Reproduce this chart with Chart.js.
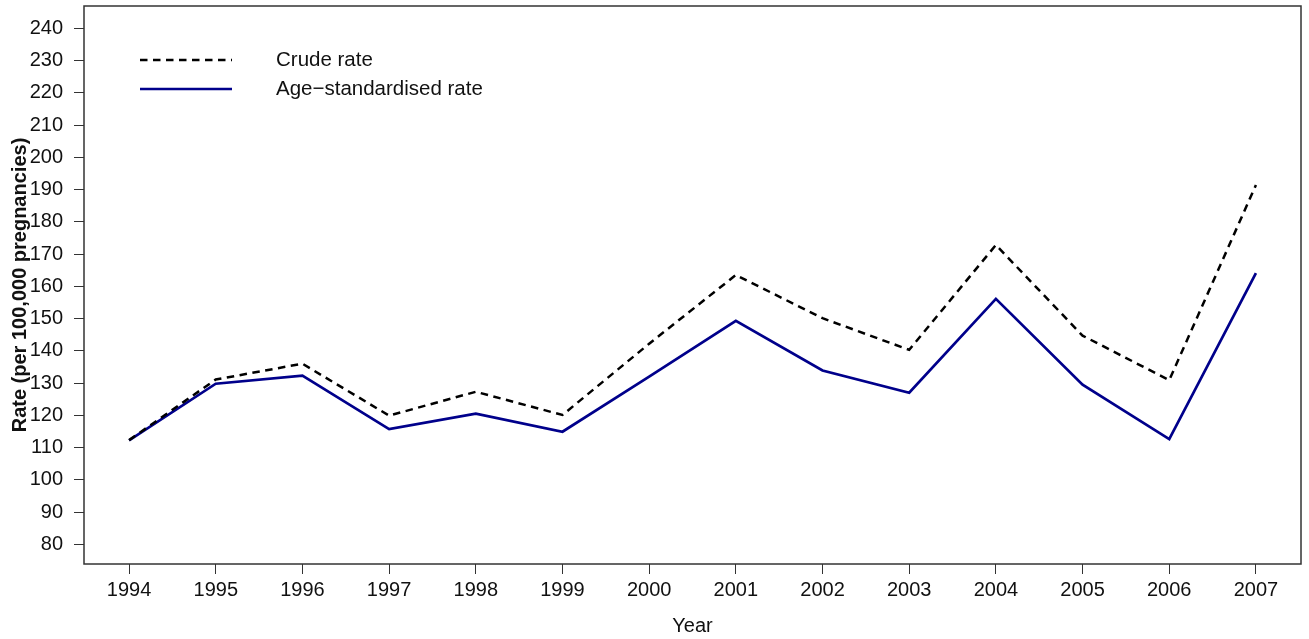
<!DOCTYPE html>
<html>
<head>
<meta charset="utf-8">
<script src="https://cdn.jsdelivr.net/npm/chart.js@4"></script>
<style>
  html, body { margin: 0; padding: 0; background: #fff; }
  #wrap { width: 1309px; height: 639px; position: relative; }
</style>
</head>
<body>
<div id="wrap"><canvas id="c" width="1309" height="639"></canvas></div>
<script>
const years = [1994, 1995, 1996, 1997, 1998, 1999, 2000, 2001, 2002, 2003, 2004, 2005, 2006, 2007];
const crudeRate = [112.3, 131.1, 136.0, 119.9, 127.3, 120.1, 142.2, 163.5, 150.1, 140.3, 172.8, 144.7, 130.9, 191.4];
const ageStdRate = [112.2, 129.8, 132.3, 115.7, 120.5, 114.9, 132.0, 149.3, 133.9, 127.0, 156.1, 129.5, 112.6, 164.1];
const yTicks = [80, 90, 100, 110, 120, 130, 140, 150, 160, 170, 180, 190, 200, 210, 220, 230, 240];
const seriesNames = ['Crude rate', 'Age\u2212standardised rate'];

const FONT = 'Liberation Sans, Arial, Helvetica, sans-serif';
const CRUDE_COLOR = '#000000';
const AGE_COLOR = '#00008B';
const CRUDE_DASH = [7.5, 5.5];

const boxPlugin = {
  id: 'boxPlugin',
  afterDraw(chart) {
    const { ctx, chartArea: a } = chart;
    ctx.save();
    ctx.strokeStyle = '#333';
    ctx.lineWidth = 1.5;
    ctx.strokeRect(a.left, a.top, a.right - a.left, a.bottom - a.top);
    // legend
    const x0 = a.left + 56, x1 = a.left + 148, tx = a.left + 192;
    const rows = [
      { y: a.top + 54, color: CRUDE_COLOR, dash: CRUDE_DASH, w: 2.5, label: seriesNames[0] },
      { y: a.top + 83, color: AGE_COLOR, dash: [], w: 2.7, label: seriesNames[1] }
    ];
    rows.forEach(r => {
      ctx.beginPath();
      ctx.setLineDash(r.dash);
      ctx.strokeStyle = r.color;
      ctx.lineWidth = r.w;
      ctx.moveTo(x0, r.y);
      ctx.lineTo(x1, r.y);
      ctx.stroke();
      ctx.setLineDash([]);
      ctx.fillStyle = '#111';
      ctx.font = '20.5px ' + FONT;
      ctx.textBaseline = 'middle';
      ctx.textAlign = 'left';
      ctx.fillText(r.label, tx, r.y);
    });
    ctx.restore();
  }
};

new Chart(document.getElementById('c'), {
  type: 'line',
  data: {
    datasets: [
      {
        label: seriesNames[0],
        data: years.map((y, i) => ({ x: y, y: crudeRate[i] })),
        borderColor: CRUDE_COLOR,
        borderWidth: 2.5,
        borderDash: CRUDE_DASH,
        pointRadius: 0,
        tension: 0,
        fill: false
      },
      {
        label: seriesNames[1],
        data: years.map((y, i) => ({ x: y, y: ageStdRate[i] })),
        borderColor: AGE_COLOR,
        borderWidth: 2.7,
        pointRadius: 0,
        tension: 0,
        fill: false
      }
    ]
  },
  options: {
    responsive: false,
    animation: false,
    layout: { padding: { top: 6, right: 8, left: 0, bottom: 0 } },
    plugins: {
      legend: { display: false },
      tooltip: { enabled: false }
    },
    scales: {
      x: {
        type: 'linear',
        min: 1993.48,
        max: 2007.52,
        afterBuildTicks(axis) { axis.ticks = years.map(v => ({ value: v })); },
        afterFit(scale) {
          scale.height = 75;
          scale.paddingLeft = 0; scale.paddingRight = 0;
          scale.paddingTop = 0; scale.paddingBottom = 0;
        },
        ticks: {
          color: '#111',
          font: { family: FONT, size: 20 },
          padding: 4,
          maxRotation: 0,
          autoSkip: false,
          callback: v => String(v)
        },
        grid: { drawOnChartArea: false, drawTicks: true, tickLength: 10, color: '#333', lineWidth: 1 },
        border: { display: false },
        title: {
          display: true,
          text: 'Year',
          color: '#111',
          font: { family: FONT, size: 20 },
          padding: { top: 0, bottom: 1 }
        }
      },
      y: {
        type: 'linear',
        min: 73.9,
        max: 246.9,
        afterBuildTicks(axis) { axis.ticks = yTicks.map(v => ({ value: v })); },
        afterFit(scale) {
          scale.width = 84;
          scale.paddingLeft = 0; scale.paddingRight = 0;
          scale.paddingTop = 0; scale.paddingBottom = 0;
        },
        ticks: {
          color: '#111',
          font: { family: FONT, size: 20 },
          padding: 11,
          autoSkip: false
        },
        grid: { drawOnChartArea: false, drawTicks: true, tickLength: 10, color: '#333', lineWidth: 1 },
        border: { display: false },
        title: {
          display: true,
          text: 'Rate (per 100,000 pregnancies)',
          color: '#111',
          font: { family: FONT, size: 20, weight: 'bold' },
          padding: { top: 8, bottom: 0 }
        }
      }
    }
  },
  plugins: [boxPlugin]
});
</script>
</body>
</html>
